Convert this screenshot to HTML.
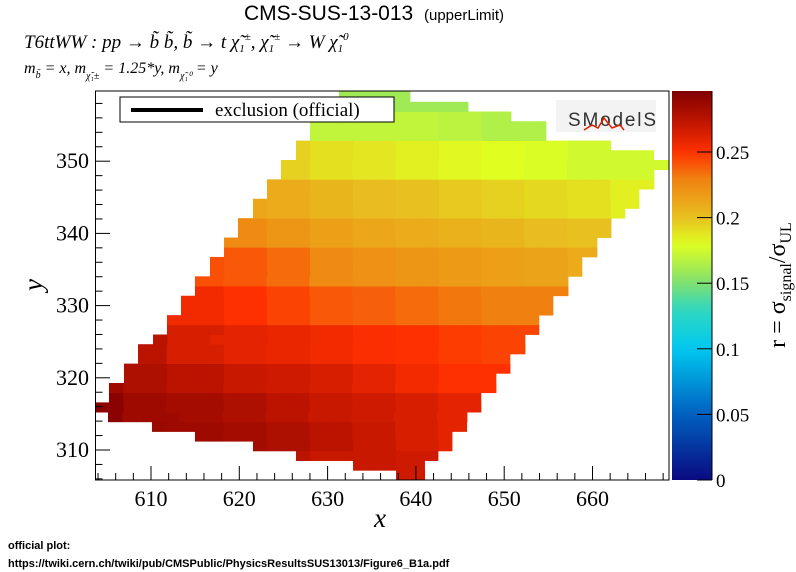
<!DOCTYPE html>
<html><head><meta charset="utf-8">
<style>
html,body{margin:0;padding:0;background:#fff;}
svg{display:block;}
</style></head>
<body>
<svg id="chart" width="796" height="572" viewBox="0 0 796 572" xmlns="http://www.w3.org/2000/svg">
  <text x="244" y="20" font-family="Liberation Sans, sans-serif" font-size="21">CMS-SUS-13-013</text>
  <text x="424" y="20" font-family="Liberation Sans, sans-serif" font-size="15">(upperLimit)</text>
  <text x="24" y="48" font-family="Liberation Serif, serif" font-style="italic" font-size="19">T6ttWW : pp → b̃ b̃, b̃  → t χ̃<tspan dy="4" font-size="11">1</tspan><tspan dy="-12" font-size="11">±</tspan><tspan dy="8">, χ̃</tspan><tspan dy="4" font-size="11">1</tspan><tspan dy="-12" font-size="11">±</tspan><tspan dy="8"> → W χ̃</tspan><tspan dy="4" font-size="11">1</tspan><tspan dy="-12" font-size="11">0</tspan></text>
  <text x="24" y="73" font-family="Liberation Serif, serif" font-style="italic" font-size="16">m<tspan dy="5" font-size="10">b̃</tspan><tspan dy="-5"> = x, m</tspan><tspan dy="6" font-size="10">χ̃₁±</tspan><tspan dy="-6"> = 1.25*y, m</tspan><tspan dy="6" font-size="10">χ̃₁⁰</tspan><tspan dy="-6"> = y</tspan></text>

  <g id="heatmap"></g>
  <rect x="95.5" y="91" width="573.5" height="389" fill="none" stroke="#000" stroke-width="1"/>
  <g id="axes"></g>

  <g>
    <rect x="120" y="97" width="274" height="25" fill="#fff" stroke="#000" stroke-width="1"/>
    <line x1="131" y1="110" x2="203" y2="110" stroke="#000" stroke-width="4"/>
    <text x="215" y="116" font-family="Liberation Serif, serif" font-size="19">exclusion (official)</text>
  </g>
  <g>
    <rect x="556" y="100" width="100" height="32" fill="#e8e8e8" opacity="0.5"/>
    <text x="568" y="126" font-family="Liberation Sans, sans-serif" font-size="19" fill="#333" textLength="88">SModelS</text>
    <path d="M584 130 L592 125 L598 128 L604 118 L612 128 L620 125 L624 130" stroke="#e02000" fill="none" stroke-width="1.5"/>
  </g>

  <defs>
    <linearGradient id="pal" x1="0" y1="1" x2="0" y2="0"></linearGradient>
  </defs>
  <rect x="672" y="91" width="40" height="389" fill="url(#pal)"/>
  <g id="cbaxis"></g>
  <text transform="translate(785,285) rotate(-90)" text-anchor="middle" font-family="Liberation Serif, serif" font-size="24">r = σ<tspan dy="6" font-size="16">signal</tspan><tspan dy="-6">/σ</tspan><tspan dy="6" font-size="16">UL</tspan></text>

  <text x="380" y="527" text-anchor="middle" font-family="Liberation Serif, serif" font-style="italic" font-size="27">x</text>
  <text transform="translate(42,285) rotate(-90)" text-anchor="middle" font-family="Liberation Serif, serif" font-style="italic" font-size="27">y</text>

  <text x="8" y="549" font-family="Liberation Sans, sans-serif" font-weight="bold" font-size="11">official plot:</text>
  <text x="8" y="567" font-family="Liberation Sans, sans-serif" font-weight="bold" font-size="11">https://twiki.cern.ch/twiki/pub/CMSPublic/PhysicsResultsSUS13013/Figure6_B1a.pdf</text>
</svg>
<script>
// ---- data ----
const xTicks = [610, 620, 630, 640, 650, 660];
const yTicks = [310, 320, 330, 340, 350];
const zTicks = [0, 0.05, 0.1, 0.15, 0.2, 0.25];
const zTickLabels = ["0", "0.05", "0.1", "0.15", "0.2", "0.25"];
// row extents (x range covered) for each y-row, bottom to top
const rowXmin = [637.75,632.88,626.42,621.55,614.98,610.11,605.13,603.66,605.24,605.24,606.94,606.94,608.53,608.53,610.23,611.81,611.81,613.40,613.40,614.98,614.98,616.68,616.68,618.27,618.27,619.85,619.85,621.55,621.55,623.14,623.14,624.72,624.72,626.42,626.42,628.01,628.01,628.01,628.01,631.29,631.29];
const rowXmax = [641.03,641.03,642.50,644.09,644.09,645.79,645.79,647.37,647.37,649.07,649.07,650.66,650.66,652.36,652.36,653.94,653.94,655.53,655.53,657.23,657.23,658.81,658.81,660.51,660.51,662.10,662.10,663.68,665.27,665.27,666.96,666.96,668.55,666.96,662.10,654.73,654.73,650.77,645.90,639.33,639.33];
// value grid (r) at anchor points
const gridX = [605,610,615,620,625,630,635,640,645,650,655,660,665,670];
const gridY = [307,312,316,320,325,330,335,340,345,350,355,359];
const gridR = [
 [.29,.29,.285,.28,.275,.27,.27,.268,.265,.26,.26,.26,.26,.26],
 [.29,.287,.285,.283,.28,.275,.27,.265,.26,.258,.255,.255,.255,.255],
 [.293,.285,.283,.28,.275,.27,.268,.265,.26,.255,.255,.25,.25,.25],
 [.285,.28,.275,.27,.268,.265,.26,.255,.25,.25,.248,.248,.248,.248],
 [.28,.275,.265,.26,.258,.255,.252,.25,.247,.245,.245,.245,.245,.245],
 [.265,.26,.255,.25,.245,.24,.238,.235,.232,.23,.23,.228,.228,.228],
 [.245,.245,.242,.24,.235,.225,.222,.22,.218,.215,.213,.21,.21,.21],
 [.23,.23,.228,.225,.22,.215,.212,.21,.207,.205,.202,.2,.2,.2],
 [.215,.215,.213,.212,.21,.205,.202,.2,.197,.195,.192,.19,.185,.185],
 [.195,.195,.195,.195,.195,.19,.188,.185,.182,.18,.178,.175,.175,.175],
 [.175,.175,.175,.175,.172,.17,.17,.17,.168,.165,.165,.165,.165,.165],
 [.16,.16,.16,.16,.16,.16,.16,.16,.16,.16,.16,.16,.16,.16]
];
const zMax = 0.2965;

// ---- scales ----
const NS = "http://www.w3.org/2000/svg";
const sx = u => 151 + (u - 610) * 8.83;
const sy = v => 450 - (v - 310) * 7.22;
const sz = z => 480 - z / zMax * 389;
const rowStart = 305.85, rowH = 1.343, cellW = 1.62;

const stops = [[0,[10,10,128]],[0.05,[0,96,192]],[0.1,[0,200,240]],[0.13,[48,216,192]],[0.15,[128,224,112]],[0.18,[224,255,32]],[0.2,[232,192,32]],[0.23,[240,128,16]],[0.25,[255,48,0]],[0.27,[200,24,0]],[0.2965,[128,0,0]]];
function color(z){
  for(let i=1;i<stops.length;i++){
    if(z<=stops[i][0]){
      const a=stops[i-1],b=stops[i],t=(z-a[0])/(b[0]-a[0]);
      const c=a[1].map((v,j)=>Math.round(v+(b[1][j]-v)*t));
      return `rgb(${c[0]},${c[1]},${c[2]})`;
    }
  }
  return "rgb(128,0,0)";
}
function nearest(arr,v){let bi=0;for(let i=1;i<arr.length;i++)if(Math.abs(arr[i]-v)<Math.abs(arr[bi]-v))bi=i;return bi;}

// gradient
const grad=document.getElementById('pal');
for(let i=0;i<=40;i++){const z=zMax*i/40;const s=document.createElementNS(NS,'stop');s.setAttribute('offset',(i/40));s.setAttribute('stop-color',color(z));grad.appendChild(s);}

// heatmap cells
const hm=document.getElementById('heatmap');
for(let k=0;k<rowXmin.length;k++){
  const y0=rowStart+k*rowH, y1=Math.min(y0+rowH,359.75);
  for(let x=rowXmin[k]; x<rowXmax[k]-0.05; x+=cellW){
    const x1=Math.min(x+cellW,rowXmax[k]);
    const r=gridR[nearest(gridY,(y0+y1)/2)][nearest(gridX,(x+x1)/2)];
    const rc=document.createElementNS(NS,'rect');
    
    
    rc.setAttribute('x',sx(x));rc.setAttribute('y',sy(y1));
    rc.setAttribute('width',sx(x1)-sx(x)+0.4);rc.setAttribute('height',sy(y0)-sy(y1)+0.4);
    rc.setAttribute('fill',color(r));
    hm.appendChild(rc);
  }
}

// axes
const ax=document.getElementById('axes');
function line(g,x1,y1,x2,y2,name){const l=document.createElementNS(NS,'line');
  
  
  l.setAttribute('x1',x1);l.setAttribute('y1',y1);l.setAttribute('x2',x2);l.setAttribute('y2',y2);l.setAttribute('stroke','#000');l.setAttribute('stroke-width','1');g.appendChild(l);}
function text(g,x,y,s,anchor,size,name){const t=document.createElementNS(NS,'text');
  
  
  t.setAttribute('x',x);t.setAttribute('y',y);t.setAttribute('text-anchor',anchor);t.setAttribute('font-family','Liberation Serif, serif');t.setAttribute('font-size',size);t.textContent=s;g.appendChild(t);}
for(let u=604;u<=668;u+=2){const X=sx(u);const major=xTicks.includes(u);line(ax,X,480,X,major?466:473,'x-tick');}
xTicks.forEach(u=>text(ax,sx(u),506,String(u),'middle',22,'x-tick-label'));
for(let v=306;v<=359;v+=2){const Y=sy(v);const major=yTicks.includes(v);line(ax,95.5,Y,major?110:102.5,Y,'y-tick');}
yTicks.forEach(v=>text(ax,89,sy(v)+7,String(v),'end',22,'y-tick-label'));
const cb=document.getElementById('cbaxis');
line(cb,712,91,712,480,'colorbar-axis-line');
zTicks.forEach((z,i)=>{const Y=sz(z);line(cb,697,Y,712,Y,'colorbar-tick');text(cb,716,Y+7,zTickLabels[i],'start',19,'colorbar-tick-label');});
</script>
</body></html>
